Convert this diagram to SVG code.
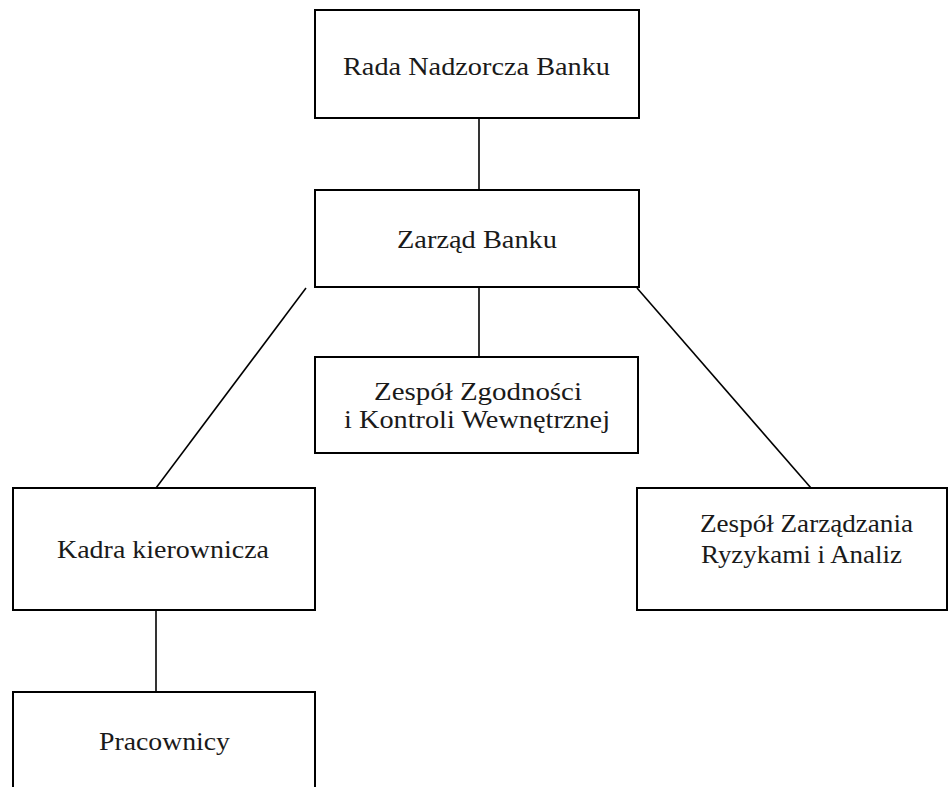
<svg xmlns="http://www.w3.org/2000/svg" width="949" height="787" viewBox="0 0 949 787">
<style>
.box{fill:#fff;stroke:#000;stroke-width:2}
.lbl{font-size:25px;fill:#1a1a1a;text-anchor:middle}
.conn{stroke:#000;stroke-width:1.6;fill:none}
</style>
<rect width="949" height="787" fill="#fff"/>
<g id="connectors">
<line class="conn" x1="479" y1="118" x2="479" y2="190"/>
<line class="conn" x1="479" y1="287" x2="479" y2="357"/>
<line class="conn" x1="306" y1="288" x2="156" y2="488"/>
<line class="conn" x1="637" y1="288" x2="811" y2="488"/>
<line class="conn" x1="156" y1="610" x2="156" y2="692"/>
</g>
<g id="rada">
<rect class="box" x="315" y="10" width="324" height="108"/>
<text class="lbl" font-family="Liberation Serif, Times New Roman, serif" x="476.5" y="75" textLength="267" lengthAdjust="spacingAndGlyphs">Rada Nadzorcza Banku</text>
</g>
<g id="zarzad">
<rect class="box" x="315" y="190" width="324" height="97"/>
<text class="lbl" font-family="Liberation Serif, Times New Roman, serif" x="477" y="248" textLength="160" lengthAdjust="spacingAndGlyphs">Zarząd Banku</text>
</g>
<g id="zgodnosc">
<rect class="box" x="315" y="357" width="323" height="96"/>
<text class="lbl" font-family="Liberation Serif, Times New Roman, serif" x="478" y="400" textLength="208" lengthAdjust="spacingAndGlyphs">Zespół Zgodności</text>
<text class="lbl" font-family="Liberation Serif, Times New Roman, serif" x="477" y="428" textLength="266" lengthAdjust="spacingAndGlyphs">i Kontroli Wewnętrznej</text>
</g>
<g id="kadra">
<rect class="box" x="13" y="488" width="302" height="122"/>
<text class="lbl" font-family="Liberation Serif, Times New Roman, serif" x="163" y="558" textLength="212" lengthAdjust="spacingAndGlyphs">Kadra kierownicza</text>
</g>
<g id="pracownicy">
<rect class="box" x="13" y="692" width="302" height="110"/>
<text class="lbl" font-family="Liberation Serif, Times New Roman, serif" x="164.5" y="750" textLength="131" lengthAdjust="spacingAndGlyphs">Pracownicy</text>
</g>
<g id="ryzyka">
<rect class="box" x="637" y="488" width="310" height="122"/>
<text class="lbl" font-family="Liberation Serif, Times New Roman, serif" x="806.5" y="532" textLength="213" lengthAdjust="spacingAndGlyphs">Zespół Zarządzania</text>
<text class="lbl" font-family="Liberation Serif, Times New Roman, serif" x="801.5" y="563" textLength="201" lengthAdjust="spacingAndGlyphs">Ryzykami i Analiz</text>
</g>
</svg>
